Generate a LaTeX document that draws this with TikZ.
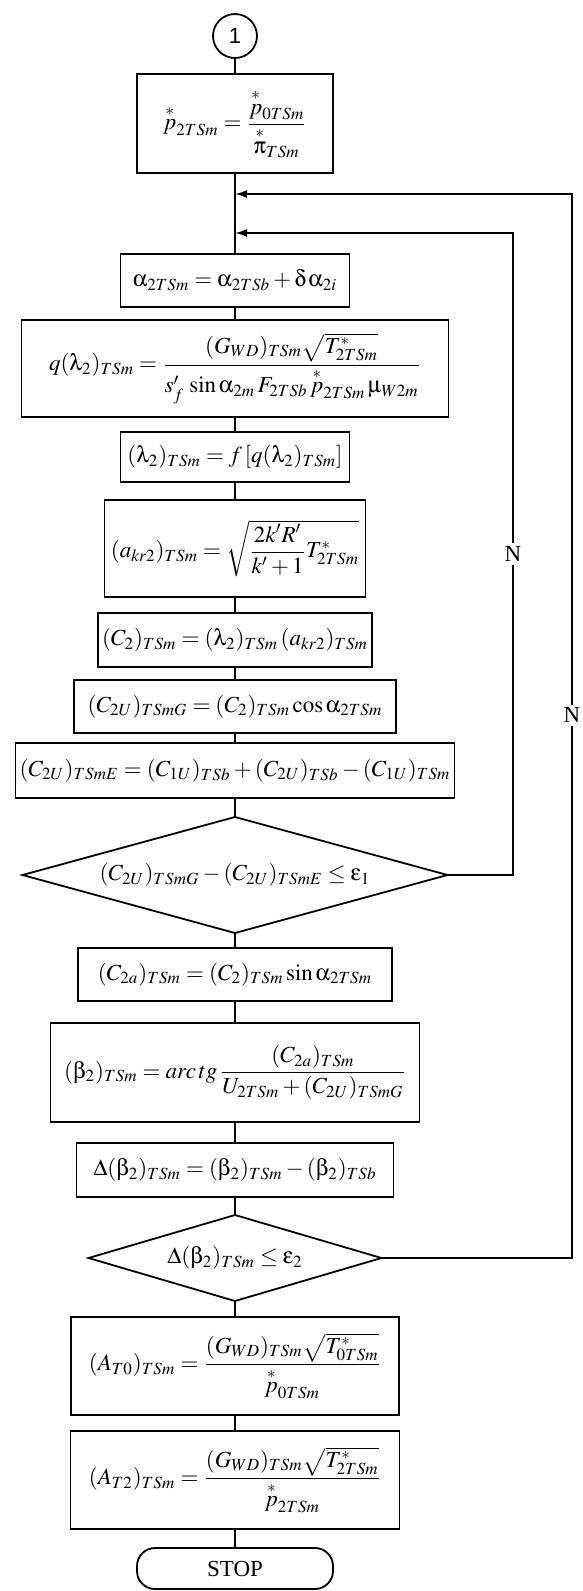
\documentclass[tikz,border=0pt]{standalone}
\usepackage{amsmath}
\usepackage{mathptmx}
\usepackage[Symbol]{upgreek}
\usepackage[no-math]{fontspec}
\setmainfont{Liberation Serif}
\newfontfamily\connfont{Liberation Sans}
\usetikzlibrary{arrows.meta,positioning,shapes.geometric}

\begin{document}
\begin{tikzpicture}[
  x=0.5pt, y=-0.5pt,
  every node/.style={font=\fontsize{11.5}{13}\selectfont},
  block/.style={draw, line width=0.9pt, inner sep=2pt, outer sep=0pt, align=center},
  decision/.style={block, diamond, inner sep=1pt},
  connector/.style={block, circle, minimum size=22pt, inner sep=0pt,
    font=\connfont\fontsize{11}{13}\selectfont},
  terminal/.style={block, rounded corners=9pt, minimum width=98pt, minimum height=20.5pt},
  line/.style={line width=0.9pt},
  arrow/.style={line, -{Latex[length=6pt, width=4pt]}},
  nlabel/.style={fill=white, inner sep=1.5pt}
]
\useasboundingbox (0,0) rectangle (583,1591);

\node[connector] (start) at (235,36) {1};
\node[block, below=8pt of start, minimum width=98pt, minimum height=49.5pt] (ptwo)
  {$\overset{*}{p}_{2TSm}=\dfrac{\overset{*}{p}_{0TSm}}{\overset{*}{\uppi}_{TSm}}$};
\node[block, below=40.5pt of ptwo, minimum width=114.5pt, minimum height=26.5pt] (alpha)
  {$\upalpha_{2TSm}=\upalpha_{2TSb}+\updelta\,\upalpha_{2i}$};
\node[block, below=6.5pt of alpha, minimum width=213.5pt, minimum height=48.5pt] (qlam)
  {$q(\uplambda_2)_{TSm}=\dfrac{(G_{WD})_{TSm}\sqrt{T^{*}_{2TSm}}}{s'_{f}\,\sin\upalpha_{2m}\,F_{2TSb}\,\overset{*}{p}_{2TSm}\,\upmu_{W2m}}$};
\node[block, below=7.5pt of qlam, minimum width=114.5pt, minimum height=25pt] (lam)
  {$(\uplambda_2)_{TSm}=f\left[q(\uplambda_2)_{TSm}\right]$};
\node[block, below=9pt of lam, minimum width=130.5pt, minimum height=48.5pt] (akr)
  {$(a_{kr2})_{TSm}=\sqrt{\dfrac{2k'R'}{k'+1}T^{*}_{2TSm}}$};
\node[block, below=8pt of akr, minimum width=134.5pt, minimum height=27pt] (ctwo)
  {$(C_2)_{TSm}=(\uplambda_2)_{TSm}\,(a_{kr2})_{TSm}$};
\node[block, below=6.5pt of ctwo, minimum width=161pt, minimum height=26.5pt] (cug)
  {$(C_{2U})_{TSmG}=(C_2)_{TSm}\cos\upalpha_{2TSm}$};
\node[block, below=5pt of cug, minimum width=219.5pt, minimum height=27.5pt] (cue)
  {$(C_{2U})_{TSmE}=(C_{1U})_{TSb}+(C_{2U})_{TSb}-(C_{1U})_{TSm}$};
\node[decision, below=9.5pt of cue, aspect=3.66, minimum width=212.5pt, minimum height=58pt] (decone)
  {$(C_{2U})_{TSmG}-(C_{2U})_{TSmE}\le\upepsilon_1$};
\node[block, below=7.5pt of decone, minimum width=157pt, minimum height=26.5pt] (ctwoa)
  {$(C_{2a})_{TSm}=(C_2)_{TSm}\sin\upalpha_{2TSm}$};
\node[block, below=11pt of ctwoa, minimum width=184.5pt, minimum height=49.5pt] (beta)
  {$(\upbeta_2)_{TSm}=arc\,tg\,\dfrac{(C_{2a})_{TSm}}{U_{2TSm}+(C_{2U})_{TSmG}}$};
\node[block, below=10.5pt of beta, minimum width=158.5pt, minimum height=27pt] (dbeta)
  {$\Delta(\upbeta_2)_{TSm}=(\upbeta_2)_{TSm}-(\upbeta_2)_{TSb}$};
\node[decision, below=9pt of dbeta, aspect=3.4, minimum width=146.5pt, minimum height=43pt] (dectwo)
  {$\Delta(\upbeta_2)_{TSm}\le\upepsilon_2$};
\node[block, below=8pt of dectwo, minimum width=164pt, minimum height=49pt] (atzero)
  {$(A_{T0})_{TSm}=\dfrac{(G_{WD})_{TSm}\sqrt{T^{*}_{0TSm}}}{\overset{*}{p}_{0TSm}}$};
\node[block, below=8pt of atzero, minimum width=164.5pt, minimum height=49pt] (attwo)
  {$(A_{T2})_{TSm}=\dfrac{(G_{WD})_{TSm}\sqrt{T^{*}_{2TSm}}}{\overset{*}{p}_{2TSm}}$};
\node[terminal, below=9.5pt of attwo] (stop) {STOP};

% return points of the two loops
\coordinate (touter) at (572,194);
\coordinate (tinner) at (513,233);
\coordinate (jouter) at (ptwo.south |- touter);
\coordinate (jinner) at (ptwo.south |- tinner);

\draw[line] (start) -- (ptwo);
\draw[line] (ptwo) -- (alpha);
\draw[line] (alpha) -- (qlam);
\draw[line] (qlam) -- (lam);
\draw[line] (lam) -- (akr);
\draw[line] (akr) -- (ctwo);
\draw[line] (ctwo) -- (cug);
\draw[line] (cug) -- (cue);
\draw[line] (cue) -- (decone);
\draw[line] (decone) -- (ctwoa);
\draw[line] (ctwoa) -- (beta);
\draw[line] (beta) -- (dbeta);
\draw[line] (dbeta) -- (dectwo);
\draw[line] (dectwo) -- (atzero);
\draw[line] (atzero) -- (attwo);
\draw[line] (attwo) -- (stop);

\draw[arrow] (decone.east) -| (tinner) node[nlabel, pos=0.75] {N} -- (jinner);
\draw[arrow] (dectwo.east) -| (touter) node[nlabel, pos=0.755] {N} -- (jouter);
\end{tikzpicture}
\end{document}
